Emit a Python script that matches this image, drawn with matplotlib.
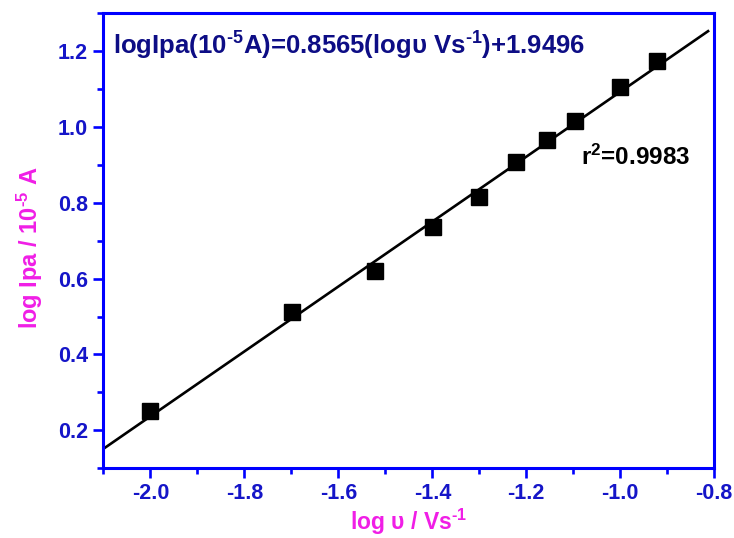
import numpy as np
import matplotlib.pyplot as plt

plt.rcParams['font.family'] = ['Liberation Sans', 'DejaVu Sans']
plt.rcParams['font.weight'] = 'bold'
plt.rcParams['axes.unicode_minus'] = False
plt.rcParams['mathtext.fontset'] = 'custom'
plt.rcParams['mathtext.default'] = 'bf'
plt.rcParams['mathtext.bf'] = 'Liberation Sans:bold'
plt.rcParams['mathtext.rm'] = 'Liberation Sans:bold'

# log of scan rate (V/s) and log of anodic peak current (10^-5 A)
log_v = [-2.0, -1.699, -1.523, -1.398, -1.301, -1.222, -1.155, -1.097, -1.0, -0.921]
log_ipa = [0.251, 0.511, 0.620, 0.735, 0.816, 0.909, 0.966, 1.015, 1.107, 1.174]

# linear fit reported for the data
slope = 0.8565
intercept = 1.9496
r2 = 0.9983

blue = '#0000ff'
tick_blue = '#1515c8'
navy = '#0d0d85'
magenta = '#f01ee6'
hy = '\u2010'  # short hyphen for superscripts

fig = plt.figure(figsize=(7.34, 5.38), dpi=100)
ax = fig.add_axes([0.141, 0.130, 0.832, 0.845])

xx = np.array([-2.1, -0.813])
ax.plot(xx, slope * xx + intercept, color='black', lw=1.9, zorder=2)
ax.plot(log_v, log_ipa, 's', color='black', ms=11.5, zorder=3)

ax.set_xlim(-2.1, -0.8)
ax.set_ylim(0.1, 1.3)
ax.set_xticks(np.arange(-2.0, -0.79, 0.2))
ax.set_xticks(np.arange(-2.1, -0.79, 0.1), minor=True)
ax.set_yticks(np.arange(0.2, 1.21, 0.2))
ax.set_yticks(np.arange(0.1, 1.31, 0.1), minor=True)
ax.xaxis.set_major_formatter(plt.FormatStrFormatter('%.1f'))
ax.yaxis.set_major_formatter(plt.FormatStrFormatter('%.1f'))

for s in ax.spines.values():
    s.set_color(blue)
    s.set_linewidth(2.2)
ax.tick_params(which='major', direction='out', length=7, width=1.9,
               color=blue, labelcolor=tick_blue, labelsize=15.5, pad=4)
ax.tick_params(which='minor', direction='out', length=4, width=1.9, color=blue)
for lab in ax.get_xticklabels() + ax.get_yticklabels():
    lab.set_fontweight('bold')

ax.set_xlabel(r'log $\mathregular{\upsilon}$ / Vs$^{%s1}$' % hy, color=magenta,
              fontsize=16.5, fontweight='bold', labelpad=2)
ax.set_ylabel(r'log Ipa / 10$^{%s5}$ A' % hy, color=magenta, fontsize=17,
              fontweight='bold')
ax.yaxis.set_label_coords(-0.095, 0.484)

ax.text(0.015, 0.929,
        'logIpa(10$^{%s5}$A)=%.4f(logυ Vs$^{%s1}$)+%.4f' % (hy, slope, hy, intercept),
        transform=ax.transAxes, color=navy, fontsize=18.5, fontweight='bold',
        va='center', ha='left')
ax.text(0.782, 0.684, 'r$^{2}$=%.4f' % r2, transform=ax.transAxes,
        color='black', fontsize=17.5, fontweight='bold', va='center', ha='left')

fig.savefig('out.png', dpi=100)
